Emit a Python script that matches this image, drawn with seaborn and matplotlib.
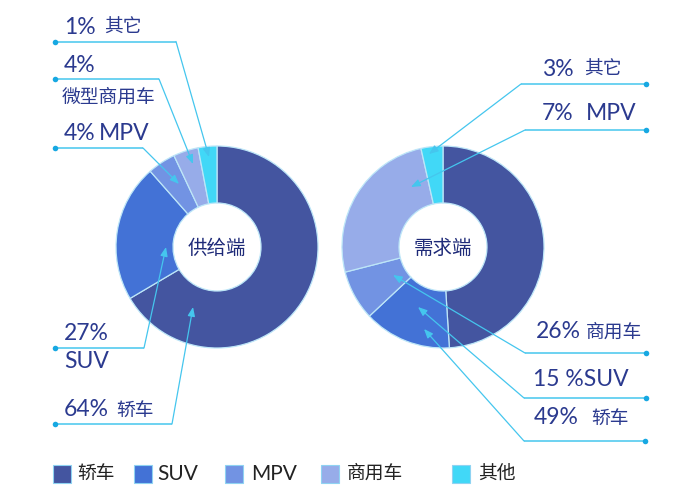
import matplotlib
matplotlib.use("Agg")
import matplotlib.pyplot as plt
import seaborn as sns

# ---------------- data ----------------
categories = ["轿车", "SUV", "MPV", "商用车", "其他"]
# slice shares as drawn in the picture (clockwise from 12 o'clock)
supply_shares = [66.5, 22.0, 4.5, 4.0, 3.0]
demand_shares = [49.0, 14.0, 8.0, 25.5, 3.5]
supply_title = "供给端"
demand_title = "需求端"
# annotation texts (percent part, name part)
supply_pct = ["1%", "4%", "4%", "27%", "64%"]
supply_names = ["其它", "微型商用车", "MPV", "SUV", "轿车"]
demand_pct = ["3%", "7%", "26%", "15 %SUV", "49%"]
demand_names = ["其它", "MPV", "商用车", "", "轿车"]

palette = sns.color_palette(["#4455A0", "#4372D6", "#7293E3", "#97ACE9", "#41D8F7"])

# ---------------- style ----------------
sns.set_theme(style="white")
FONT = ["Lato", "Noto Sans CJK SC", "DejaVu Sans"]
CJK = ["Noto Sans CJK SC", "DejaVu Sans"]
plt.rcParams["font.family"] = FONT

W, H = 700, 497
fig = plt.figure(figsize=(7.0, 4.97), dpi=100)
ax = fig.add_axes([0, 0, 1, 1])

def Y(y):
    return H - y

LABEL_C = "#2B3A8F"
LINE_C = "#45C6EE"
DOT_C = "#17A8E2"

# ---------------- donuts ----------------
R_OUT, R_IN = 101, 44
for shares, cx, title in [(supply_shares, 217, supply_title),
                          (demand_shares, 443, demand_title)]:
    ax.pie(shares, colors=palette, startangle=90, counterclock=False,
           radius=R_OUT, center=(cx, Y(247)),
           wedgeprops=dict(width=R_OUT - R_IN, edgecolor="#BDE6F8", linewidth=0.9))
    ax.text(cx, Y(248), title, ha="center", va="center", fontsize=14,
            color="#1E2A78", family=CJK)

# ---------------- annotations ----------------
# (dot, corner, tip) in pixel layout coordinates
supply_lines = [((55, 41.5), (176, 41.5), (209, 157)),
                ((55, 79), (159, 79), (193, 164)),
                ((55, 148), (143, 148), (179, 184)),
                ((55, 348), (144, 348), (166, 247)),
                ((55, 424), (172, 424), (193, 307))]
demand_lines = [((646, 84), (521, 84), (429, 154)),
                ((646, 130), (525, 130), (411, 187)),
                ((646, 353), (525, 353), (393, 275)),
                ((646, 398), (524, 398), (418, 307)),
                ((645, 441), (524, 441), (424, 329))]

for dot, corner, tip in supply_lines + demand_lines:
    ax.plot([dot[0], corner[0]], [Y(dot[1]), Y(corner[1])], color=LINE_C, lw=1.1,
            solid_capstyle="butt")
    ax.annotate("", xy=(tip[0], Y(tip[1])), xytext=(corner[0], Y(corner[1])),
                arrowprops=dict(arrowstyle="-|>,head_length=0.45,head_width=0.18",
                                color=LINE_C, lw=0.9, shrinkA=0, shrinkB=0,
                                mutation_scale=12))
    ax.plot(dot[0], Y(dot[1]), "o", color=DOT_C, ms=4, mec="none")

PCT_FS = 16.5
NAME_FS = 13.5
# supply (left) label positions: (pct x, pct y, name x, name y)
supply_pos = [(64, 27, 104, 27),
              (64, 66, 62, 97),
              (64, 134, 99, 134),
              (64, 333, 64, 362),
              (64, 410, 116, 410)]
for p, n, (px, py, nx, ny) in zip(supply_pct, supply_names, supply_pos):
    ax.text(px, Y(py), p, ha="left", va="center", fontsize=PCT_FS, color=LABEL_C,
            family=FONT)
    if n in ("MPV", "SUV"):
        ax.text(nx, Y(ny), n, ha="left", va="center", fontsize=PCT_FS, color=LABEL_C,
                family=FONT)
    else:
        ax.text(nx, Y(ny), n, ha="left", va="center", fontsize=NAME_FS, color=LABEL_C,
                family=CJK)

demand_pos = [(542, 69, 584, 69),
              (542, 113, 586, 113),
              (536, 332, 586, 332),
              (533, 379, 0, 0),
              (534, 418, 591, 418)]
for p, n, (px, py, nx, ny) in zip(demand_pct, demand_names, demand_pos):
    ax.text(px, Y(py), p, ha="left", va="center", fontsize=PCT_FS, color=LABEL_C,
            family=FONT)
    if not n:
        continue
    if n == "MPV":
        ax.text(nx, Y(ny), n, ha="left", va="center", fontsize=PCT_FS, color=LABEL_C,
                family=FONT)
    else:
        ax.text(nx, Y(ny), n, ha="left", va="center", fontsize=NAME_FS, color=LABEL_C,
                family=CJK)

# ---------------- legend ----------------
legend_sq_x = [53, 134, 225, 321, 452]
legend_txt_x = [77, 157, 251, 347, 478]
SQ = 18
for cat, col, sx, tx in zip(categories, palette, legend_sq_x, legend_txt_x):
    ax.add_patch(plt.Rectangle((sx, Y(465 + SQ)), SQ, SQ, facecolor=col,
                               edgecolor="#8FD3F2", lw=0.8))
    ax.text(tx, Y(473.5), cat, ha="left", va="center",
            fontsize=15 if cat.isascii() else 13.5,
            color="#222222", family=FONT)

ax.set_xlim(0, W)
ax.set_ylim(0, H)
ax.set_aspect("equal")
ax.axis("off")

fig.savefig("out.png", dpi=100, facecolor="white")
